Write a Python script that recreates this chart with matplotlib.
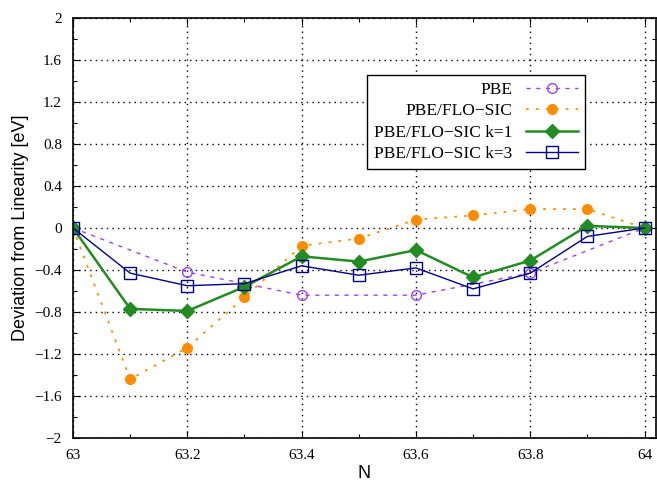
import numpy as np
import matplotlib.pyplot as plt
from matplotlib.ticker import MultipleLocator

# electron number grid
n_all = [63.0, 63.1, 63.2, 63.3, 63.4, 63.5, 63.6, 63.7, 63.8, 63.9, 64.0]
n_pbe = [63.0, 63.2, 63.4, 63.6, 63.8, 64.0]

# deviation from linearity [eV]
pbe = [0.0, -0.42, -0.64, -0.64, -0.43, 0.0]
flosic = [0.0, -1.44, -1.14, -0.66, -0.17, -0.10, 0.08, 0.12, 0.18, 0.18, 0.0]
flosic_k1 = [0.0, -0.77, -0.79, -0.56, -0.27, -0.32, -0.21, -0.47, -0.31, 0.02, 0.0]
flosic_k3 = [0.0, -0.43, -0.55, -0.53, -0.36, -0.45, -0.38, -0.58, -0.43, -0.08, 0.0]

serif = 'Liberation Serif'

fig = plt.figure(figsize=(6.57, 4.83), dpi=100)
ax = fig.add_axes([73/657, 1-438/483, (656-73)/657, (438-18)/483])

ax.plot(n_pbe, pbe, color='#a040f0', ls=(0, (3, 4)), lw=1, marker='o',
        mfc='none', mec='#a040f0', ms=7, mew=1, label='PBE')
ax.plot(n_all, flosic, color='#ff8c00', ls=(0, (1.5, 4)), lw=1.3, marker='o',
        ms=7, label='PBE/FLO\u2212SIC')
ax.plot(n_all, flosic_k1, color='#228b22', ls='-', lw=1.8, marker='D',
        ms=7, label='PBE/FLO\u2212SIC k=1')
ax.plot(n_all, flosic_k3, color='#00008b', ls='-', lw=1, marker='s',
        mfc='none', mec='#00008b', ms=8, mew=1, label='PBE/FLO\u2212SIC k=3')

ax.set_xlim(63, 64.02)
ax.set_ylim(-2, 2)
ax.xaxis.set_major_locator(MultipleLocator(0.2))
ax.xaxis.set_minor_locator(MultipleLocator(0.1))
ax.yaxis.set_major_locator(MultipleLocator(0.4))
ax.yaxis.set_minor_locator(MultipleLocator(0.2))
ax.xaxis.set_major_formatter(plt.FuncFormatter(lambda v, p: ('%g' % round(v, 1))))
ax.yaxis.set_major_formatter(plt.FuncFormatter(
    lambda v, p: ('%g' % round(v, 1)).replace('-', '\u2212')))
ax.tick_params(which='both', direction='in', top=True, right=True, width=0.8)
ax.tick_params(which='major', length=5, pad=8)
ax.tick_params(which='minor', length=3)
for lab in ax.get_xticklabels() + ax.get_yticklabels():
    lab.set_fontfamily(serif)
    lab.set_fontsize(11)
ax.grid(True, which='major', color='black', ls=(0, (1, 3)), lw=1)
for s in ax.spines.values():
    s.set_linewidth(1.2)

ax.set_xlabel('N', fontsize=13, family='Liberation Sans', labelpad=2)
ax.set_ylabel('Deviation from Linearity [eV]', fontsize=13,
              family='Liberation Sans', labelpad=4)

leg = ax.legend(loc='upper left', bbox_to_anchor=((367-73)/583, (438-75)/420),
                borderaxespad=0, markerfirst=False, fancybox=False,
                framealpha=1, edgecolor='black',
                prop={'family': serif, 'size': 12.5},
                handlelength=3.0, labelspacing=0.3, borderpad=0.4,
                alignment='right')
leg.get_frame().set_linewidth(1)
for t in leg.get_texts():
    t.set_ha('right')

fig.savefig('out.png', dpi=100)
